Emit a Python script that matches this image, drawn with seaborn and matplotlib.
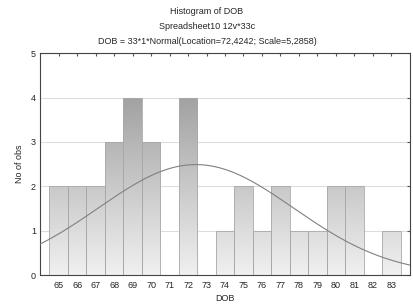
import numpy as np
import pandas as pd
import matplotlib
matplotlib.use("Agg")
import matplotlib.pyplot as plt
import seaborn as sns

dob_values = [65, 66, 67, 68, 69, 70, 71, 72, 73, 74, 75, 76, 77, 78, 79, 80, 81, 82, 83]
counts = [2, 2, 2, 3, 4, 3, 0, 4, 0, 1, 2, 1, 2, 1, 1, 2, 2, 0, 1]
n_obs = 33
loc = 72.4242
scale = 5.2858

df = pd.DataFrame({"DOB": dob_values, "n": counts})

sns.set_style("white")
plt.rcParams['font.family'] = ['Liberation Sans', 'DejaVu Sans']

fig = plt.figure(figsize=(4.14, 3.04), dpi=100)
ax = fig.add_axes([0.097, 0.095, 0.893, 0.73])

sns.histplot(data=df, x="DOB", weights="n", discrete=True, ax=ax,
             color="#bbbbbb", edgecolor="#a8a8a8", linewidth=0.6, alpha=1)

# vertical gradient fill on bars (darker at top)
grad = np.linspace(0, 1, 256).reshape(-1, 1)
cmap = matplotlib.colors.LinearSegmentedColormap.from_list("g", ["#f0f0f0", "#8e8e8e"])
for p in list(ax.patches):
    if p.get_height() <= 0:
        continue
    im = ax.imshow(grad, cmap=cmap, aspect="auto", origin="lower",
                   extent=[64, 84, 0, 5], zorder=p.get_zorder(), vmin=0, vmax=1)
    im.set_clip_path(p)
    p.set_facecolor("none")
    p.set_zorder(p.get_zorder() + 0.1)

# fitted normal curve
xs = np.linspace(64, 84, 300)
ys = n_obs * 1 * np.exp(-0.5 * ((xs - loc) / scale) ** 2) / (scale * np.sqrt(2 * np.pi))
sns.lineplot(x=xs, y=ys, ax=ax, color="#808080", linewidth=0.8, zorder=5)

ax.set_xlim(64, 84)
ax.set_ylim(0, 5)
ax.set_xticks(dob_values)
ax.set_yticks([0, 1, 2, 3, 4, 5])
ax.yaxis.grid(True, color="#dddddd", linewidth=0.8)
ax.set_axisbelow(True)
ax.tick_params(axis="both", labelsize=6.5, length=2.5, direction="in",
               top=True, right=True, pad=3, color="#555555")
ax.tick_params(axis="x", bottom=False, pad=4)
for s in ax.spines.values():
    s.set_color("#444444")
    s.set_linewidth(0.8)
ax.set_xlabel("DOB", fontsize=6.5, labelpad=3)
ax.set_ylabel("No of obs", fontsize=6.5, labelpad=5)

fig.text(0.5, 0.955, "Histogram of DOB", ha="center", fontsize=6.5)
fig.text(0.5, 0.905, "Spreadsheet10 12v*33c", ha="center", fontsize=6.5)
fig.text(0.5, 0.855, "DOB = 33*1*Normal(Location=72,4242; Scale=5,2858)", ha="center", fontsize=6.5)

fig.savefig("out.png", dpi=100)
